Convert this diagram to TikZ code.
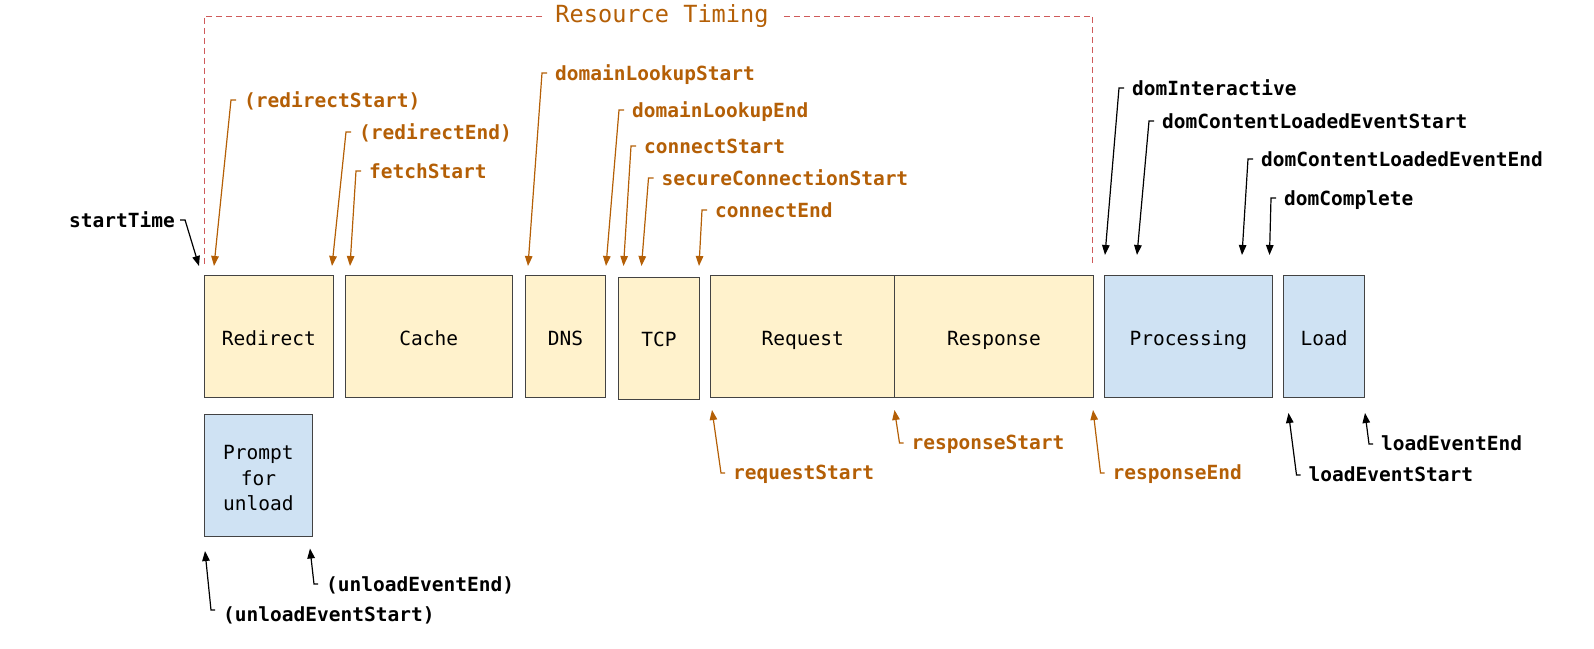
\documentclass[tikz,border=0pt]{standalone}
\usepackage{fontspec}
\setmonofont{DejaVu Sans Mono}
\usetikzlibrary{arrows.meta}
\definecolor{rtorange}{HTML}{B45F06}
\definecolor{boxyellow}{HTML}{FFF2CC}
\definecolor{boxblue}{HTML}{CFE2F3}
\definecolor{boxline}{HTML}{434343}
\definecolor{dashred}{HTML}{CF5A5A}
\begin{document}
\begin{tikzpicture}[x=1pt,y=-1pt,
  boxfont/.style={font=\ttfamily\fontsize{19.5}{25.5}\selectfont},
  phase/.style={draw=boxline, line width=1.3pt, inner sep=0pt, anchor=north west,
    boxfont, text height=18pt, text depth=1pt},
  ybox/.style={phase, fill=boxyellow},
  bbox/.style={phase, fill=boxblue},
  boxtext/.style={boxfont, inner sep=0pt, align=center},
  lbl/.style={anchor=west, inner sep=0pt, text height=15pt, text depth=3pt,
    font=\ttfamily\bfseries\fontsize{19.5}{24}\selectfont},
  olbl/.style={lbl, text=rtorange},
  klbl/.style={lbl, text=black},
  tip/.style={-{Triangle[length=10pt,width=7.5pt]}, line width=1.2pt},
  oarr/.style={tip, draw=rtorange},
  karr/.style={tip, draw=black},
  dashline/.style={draw=dashred, line width=1pt, dash pattern=on 6pt off 4pt},
  titlelbl/.style={inner sep=0pt, text=rtorange, font=\ttfamily\fontsize{23.6}{28}\selectfont}
]
\useasboundingbox (0,0) rectangle (1594,648);

% --- phase boxes ---
\node[ybox, minimum width=128.5pt, minimum height=122pt] (redirect) at (204,275) {Redirect};
\node[ybox, minimum width=167pt, minimum height=122pt] (cache) at (344.5,275) {Cache};
\node[ybox, minimum width=80.5pt, minimum height=122pt] (dns) at (524.5,275) {DNS};
\node[ybox, minimum width=81.5pt, minimum height=121.5pt] (tcp) at (617.5,277) {TCP};
\node[ybox, minimum width=184pt, minimum height=122pt] (request) at (710,275) {Request};
\node[ybox, minimum width=198.7pt, minimum height=122pt] (response) at (894,275) {Response};
\node[bbox, minimum width=167.5pt, minimum height=122pt] (processing) at (1104,275) {Processing};
\node[bbox, minimum width=81pt, minimum height=122pt] (load) at (1283,275) {Load};
\node[bbox, minimum width=107.5pt, minimum height=122pt] (prompt) at (204,414) {};
\node[boxtext] (promptText) at ([yshift=-2.5pt]prompt.center) {Prompt\\for\\unload};

% --- Resource Timing bracket ---
\node[titlelbl] (rt) at (662,16) {Resource Timing};
\coordinate (tl) at (204,16);
\coordinate (bl) at (204,265);
\coordinate (tr) at (1092.7,16);
\coordinate (br) at (1092.7,264);
\draw[dashline] ([xshift=-13pt]rt.west) -- (tl) -- (bl);
\draw[dashline] ([xshift=15pt]rt.east) -- (tr) -- (br);

% --- label nodes ---
\node[klbl] (startTime) at (69,221) {startTime};
\node[olbl] (redirectStart) at (244,101) {(redirectStart)};
\node[olbl] (redirectEnd) at (359,133) {(redirectEnd)};
\node[olbl] (fetchStart) at (369,172) {fetchStart};
\node[olbl] (domainLookupStart) at (555,74) {domainLookupStart};
\node[olbl] (domainLookupEnd) at (632,111) {domainLookupEnd};
\node[olbl] (connectStart) at (644,147) {connectStart};
\node[olbl] (secureConnectionStart) at (661.5,179) {secureConnectionStart};
\node[olbl] (connectEnd) at (715,211) {connectEnd};
\node[klbl] (domInteractive) at (1132,89) {domInteractive};
\node[klbl] (dcls) at (1162,122) {domContentLoadedEventStart};
\node[klbl] (dcle) at (1261,160) {domContentLoadedEventEnd};
\node[klbl] (domComplete) at (1284,199) {domComplete};
\node[olbl] (requestStart) at (733,473) {requestStart};
\node[olbl] (responseStart) at (911.5,443) {responseStart};
\node[olbl] (responseEnd) at (1112.5,473) {responseEnd};
\node[klbl] (loadEventStart) at (1308.5,475) {loadEventStart};
\node[klbl] (loadEventEnd) at (1381,444) {loadEventEnd};
\node[klbl] (unloadEventEnd) at (326,585) {(unloadEventEnd)};
\node[klbl] (unloadEventStart) at (223,615) {(unloadEventStart)};

% --- arrow tip coordinates ---
\coordinate (tStartTime) at (199,266);
\coordinate (tRedirectStart) at (214,266);
\coordinate (tRedirectEnd) at (332,266);
\coordinate (tFetchStart) at (350,266);
\coordinate (tDLS) at (528,266);
\coordinate (tDLE) at (606,266);
\coordinate (tCS) at (623.5,266);
\coordinate (tSCS) at (641.5,266);
\coordinate (tCE) at (699,266);
\coordinate (tDI) at (1105,255);
\coordinate (tDCLS) at (1137,255);
\coordinate (tDCLE) at (1242,255);
\coordinate (tDC) at (1269.5,255);
\coordinate (tReqS) at (712,410);
\coordinate (tResS) at (894.5,410);
\coordinate (tResE) at (1093,410);
\coordinate (tLES) at (1288.5,413);
\coordinate (tLEE) at (1365,413);
\coordinate (tUEE) at (310,548.5);
\coordinate (tUES) at (205,551);

% --- connectors (downward) ---
\draw[karr] ([xshift=5pt,yshift=1pt]startTime.east) -- ++(5,0) -- (tStartTime);
\draw[oarr] ([xshift=-8pt,yshift=1pt]redirectStart.west) -- ++(-5,0) -- (tRedirectStart);
\draw[oarr] ([xshift=-8pt,yshift=1pt]redirectEnd.west) -- ++(-5,0) -- (tRedirectEnd);
\draw[oarr] ([xshift=-8pt,yshift=1pt]fetchStart.west) -- ++(-5,0) -- (tFetchStart);
\draw[oarr] ([xshift=-8pt,yshift=1pt]domainLookupStart.west) -- ++(-5,0) -- (tDLS);
\draw[oarr] ([xshift=-8pt,yshift=1pt]domainLookupEnd.west) -- ++(-5,0) -- (tDLE);
\draw[oarr] ([xshift=-8pt,yshift=1pt]connectStart.west) -- ++(-5,0) -- (tCS);
\draw[oarr] ([xshift=-8pt,yshift=1pt]secureConnectionStart.west) -- ++(-5,0) -- (tSCS);
\draw[oarr] ([xshift=-8pt,yshift=1pt]connectEnd.west) -- ++(-5,0) -- (tCE);
\draw[karr] ([xshift=-8pt,yshift=1pt]domInteractive.west) -- ++(-5,0) -- (tDI);
\draw[karr] ([xshift=-8pt,yshift=1pt]dcls.west) -- ++(-5,0) -- (tDCLS);
\draw[karr] ([xshift=-8pt,yshift=1pt]dcle.west) -- ++(-5,0) -- (tDCLE);
\draw[karr] ([xshift=-8pt,yshift=1pt]domComplete.west) -- ++(-5,0) -- (tDC);

% --- connectors (upward) ---
\draw[oarr] ([xshift=-8pt]requestStart.west) -- ++(-4,0) -- (tReqS);
\draw[oarr] ([xshift=-8pt]responseStart.west) -- ++(-4,0) -- (tResS);
\draw[oarr] ([xshift=-8pt]responseEnd.west) -- ++(-4,0) -- (tResE);
\draw[karr] ([xshift=-8pt]loadEventStart.west) -- ++(-4,0) -- (tLES);
\draw[karr] ([xshift=-8pt]loadEventEnd.west) -- ++(-4,0) -- (tLEE);
\draw[karr] ([xshift=-8pt,yshift=1pt]unloadEventEnd.west) -- ++(-4,0) -- (tUEE);
\draw[karr] ([xshift=-8pt,yshift=5pt]unloadEventStart.west) -- ++(-4,0) -- (tUES);
\end{tikzpicture}
\end{document}
